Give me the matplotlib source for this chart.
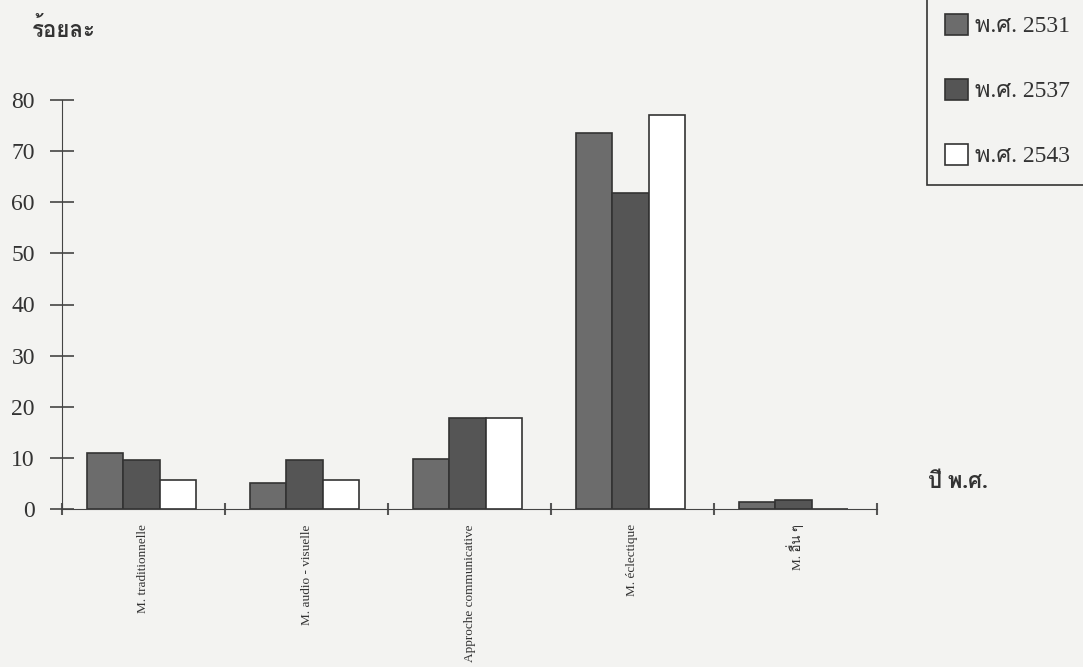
import numpy as np
import matplotlib
matplotlib.use("Agg")
import matplotlib.pyplot as plt
from matplotlib import font_manager, ft2font

categories = ["M. traditionnelle", "M. audio - visuelle", "Approche communicative",
              "M. éclectique", "M. อื่น ๆ"]
years = ["พ.ศ. 2531", "พ.ศ. 2537", "พ.ศ. 2543"]
v2531 = [11.0, 5.0, 9.8, 73.6, 1.4]
v2537 = [9.6, 9.6, 17.8, 61.8, 1.7]
v2543 = [5.7, 5.7, 17.8, 77.1, 0.0]
yticks = [0, 10, 20, 30, 40, 50, 60, 70, 80]


def find_thai_font():
    # look for any installed font that has Thai glyphs
    for entry in font_manager.fontManager.ttflist:
        try:
            f = ft2font.FT2Font(entry.fname)
            if 0x0E23 in f.get_charmap():
                return entry.name
        except Exception:
            continue
    return None


thai = find_thai_font()
fams = ["Liberation Serif"] + ([thai] if thai else []) + ["DejaVu Sans"]
plt.rcParams["font.family"] = fams

bg = "#f3f3f1"
fig = plt.figure(figsize=(10.83, 6.67), dpi=100, facecolor=bg)
ax = fig.add_axes([62 / 1083, 1 - 509 / 667, (877 - 62) / 1083, (509 - 100) / 667])
ax.set_facecolor(bg)

x = np.arange(len(categories))
w = 0.224
series = [v2531, v2537, v2543]
fills = ["#6c6c6c", "#555555", "white"]
for i, (vals, fc, lab) in enumerate(zip(series, fills, years)):
    ax.bar(x + (i - 1) * w - 0.012, vals, w, color=fc, edgecolor="#333333",
           linewidth=1.2, label=lab, zorder=2)

ax.set_xlim(-0.5, len(categories) - 0.5)
ax.set_ylim(0, 80)
for s in ["top", "right"]:
    ax.spines[s].set_visible(False)
ax.spines["left"].set_color("#444444")
ax.spines["bottom"].set_color("#444444")

ax.set_yticks(yticks)
ax.tick_params(axis="y", direction="inout", length=17, width=1.2, color="#444444",
               labelsize=17, pad=11, labelcolor="#333333")
ax.set_xticks(np.arange(len(categories) + 1) - 0.5)
ax.set_xticklabels([])
ax.tick_params(axis="x", which="major", direction="inout", length=9, width=1.5,
               color="#555555")
ax.set_xticks(x, minor=True)
ax.set_xticklabels(categories, minor=True, rotation=90, va="top", fontsize=9.5,
                   color="#333333")
ax.tick_params(axis="x", which="minor", length=0, pad=11)

fig.text(32 / 1083, 1 - 30 / 667, "ร้อยละ", fontsize=16, va="center",
         color="#333333", fontweight="bold")
fig.text(928 / 1083, 1 - 483 / 667, "ปี พ.ศ.", fontsize=16, va="center",
         color="#333333", fontweight="bold")

# legend box runs off the top-right corner like the scan
leg = fig.legend(loc="lower left", bbox_to_anchor=(927 / 1083, 1 - 185 / 667, 0.2, 0.3),
                 mode="expand", borderaxespad=0, fontsize=17, frameon=True,
                 fancybox=False, edgecolor="#333333", facecolor=bg, framealpha=1,
                 handlelength=1.0, handleheight=1.0, labelspacing=1.75,
                 borderpad=0.75, handletextpad=0.3, labelcolor="#333333")
leg.get_frame().set_linewidth(1.2)

fig.savefig("out.png", dpi=100, facecolor=bg)
